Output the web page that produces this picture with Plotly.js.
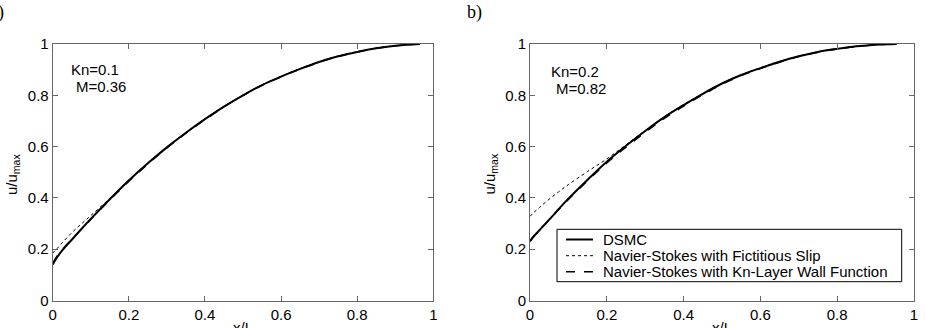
<!DOCTYPE html>
<html>
<head>
<meta charset="utf-8">
<script src="https://cdn.plot.ly/plotly-3.0.1.min.js"></script>
<style>html,body{margin:0;padding:0;background:#fff;}#chart{width:926px;height:328px;}</style>
</head>
<body>
<div id="chart"></div>
<script>
// ---- data ----
const xL = [0, 0.01, 0.025, 0.05, 0.075, 0.1, 0.15, 0.2, 0.25, 0.3, 0.35, 0.4, 0.45, 0.5, 0.55, 0.6, 0.65, 0.7, 0.75, 0.8, 0.85, 0.9, 0.93, 0.965];
const dsmcL = [0.14, 0.165, 0.195, 0.237, 0.278, 0.318, 0.395, 0.468, 0.535, 0.597, 0.654, 0.707, 0.756, 0.80, 0.84, 0.873, 0.903, 0.93, 0.952, 0.969, 0.983, 0.993, 0.997, 1.0];
const slipL = [0.185, 0.2, 0.225, 0.264, 0.298, 0.331, 0.398, 0.47, 0.537, 0.599, 0.655, 0.708, 0.757, 0.801, 0.841, 0.874, 0.904, 0.931, 0.953, 0.970, 0.984, 0.993, 0.997, 1.0];
const wallL = [0.145, 0.17, 0.198, 0.238, 0.277, 0.316, 0.392, 0.465, 0.532, 0.595, 0.652, 0.705, 0.755, 0.799, 0.839, 0.872, 0.902, 0.929, 0.951, 0.969, 0.983, 0.993, 0.997, 1.0];

const xR = [0, 0.01, 0.025, 0.05, 0.075, 0.1, 0.15, 0.2, 0.25, 0.3, 0.35, 0.4, 0.45, 0.5, 0.55, 0.6, 0.65, 0.7, 0.75, 0.8, 0.85, 0.9, 0.93, 0.955];
const dsmcR = [0.23, 0.25, 0.275, 0.315, 0.357, 0.397, 0.471, 0.541, 0.603, 0.661, 0.715, 0.762, 0.806, 0.846, 0.879, 0.906, 0.931, 0.952, 0.969, 0.981, 0.991, 0.997, 0.999, 1.0];
const slipR = [0.328, 0.343, 0.363, 0.395, 0.424, 0.452, 0.503, 0.552, 0.607, 0.663, 0.717, 0.764, 0.807, 0.847, 0.880, 0.907, 0.932, 0.953, 0.970, 0.982, 0.991, 0.997, 0.999, 1.0];
const wallR = [0.233, 0.252, 0.276, 0.314, 0.355, 0.394, 0.467, 0.536, 0.598, 0.656, 0.710, 0.758, 0.802, 0.843, 0.877, 0.904, 0.929, 0.951, 0.968, 0.98, 0.99, 0.996, 0.999, 1.0];

const seriesNames = ["DSMC", "Navier-Stokes with Fictitious Slip", "Navier-Stokes with Kn-Layer Wall Function"];
const tickVals = [0, 0.2, 0.4, 0.6, 0.8, 1];
const tickText = ["0", "0.2", "0.4", "0.6", "0.8", "1"];
const panelLabels = ["a)", "b)"];
const caseLabels = [["Kn=0.1", "M=0.36"], ["Kn=0.2", "M=0.82"]];

// ---- figure ----
const W = 926, H = 328;
const px = v => v / W;
const py = v => 1 - v / H;
const FONT = "Liberation Sans, Arial, sans-serif";
const styles = [
  {color: "#000", width: 2, dash: "solid"},
  {color: "#000", width: 1, dash: "dot"},
  {color: "#000", width: 1.5, dash: "dash"}
];

function traces(x, d, s, w, xa, ya) {
  return [d, s, w].map((yv, i) => ({
    x: x, y: yv, xaxis: xa, yaxis: ya, name: seriesNames[i], mode: "lines", showlegend: false,
    line: Object.assign({shape: "spline"}, styles[i])
  }));
}

const data = [].concat(
  traces(xL, dsmcL, slipL, wallL, "x", "y"),
  traces(xR, dsmcR, slipR, wallR, "x2", "y2")
);

function axis(domain, anchor) {
  return {
    domain: domain, anchor: anchor, range: [0, 1],
    tickvals: tickVals, ticktext: tickText,
    ticks: "inside", ticklen: 5, tickwidth: 1, tickcolor: "#666",
    showline: true, linecolor: "#666", linewidth: 1, mirror: "ticks",
    showgrid: false, zeroline: false,
    tickfont: {family: FONT, size: 15, color: "#000"}
  };
}

// legend box (drawn as shapes + text, placed in pixels)
const legBox = {x0: 557, y0: 229.3, x1: 901.7, y1: 281.7};
const legRows = [239.5, 255.7, 271.7];
const shapes = [
  {type: "rect", xref: "paper", yref: "paper", x0: px(legBox.x0), x1: px(legBox.x1), y0: py(legBox.y1), y1: py(legBox.y0),
   line: {color: "#000", width: 1}, fillcolor: "#fff", layer: "above"}
].concat(legRows.map((r, i) => ({
  type: "line", xref: "paper", yref: "paper", x0: px(566), x1: px(593), y0: py(r), y1: py(r),
  line: styles[i], layer: "above"
})));

const annotations = [
  {text: panelLabels[0], x: px(5.5), y: py(12.5), xanchor: "right", font: {family: "Liberation Serif, Times New Roman, serif", size: 18}},
  {text: panelLabels[1], x: px(465), y: py(12.5), xanchor: "left", font: {family: "Liberation Serif, Times New Roman, serif", size: 18}},
  {text: caseLabels[0][0], x: px(69), y: py(69.3), xanchor: "left", font: {size: 15}},
  {text: caseLabels[0][1], x: px(73.5), y: py(86.5), xanchor: "left", font: {size: 15}},
  {text: caseLabels[1][0], x: px(549), y: py(71.7), xanchor: "left", font: {size: 15}},
  {text: caseLabels[1][1], x: px(553.5), y: py(88.3), xanchor: "left", font: {size: 15}},
  {text: "u/u<sub>max</sub>", x: px(12), y: py(175), xanchor: "center", textangle: -90, font: {size: 15}},
  {text: "u/u<sub>max</sub>", x: px(489.5), y: py(174), xanchor: "center", textangle: -90, font: {size: 15}},
  {text: "x/L", x: px(243), y: py(327), xanchor: "center", font: {size: 15}},
  {text: "x/L", x: px(722), y: py(327), xanchor: "center", font: {size: 15}}
].concat(legRows.map((r, i) => ({
  text: seriesNames[i], x: px(600.5), y: py(r), xanchor: "left", font: {size: 15}
}))).map(a => Object.assign({xref: "paper", yref: "paper", yanchor: "middle", showarrow: false}, a));

const yDom = [py(300.5), py(44)];
const layout = {
  width: W, height: H,
  margin: {l: 0, r: 0, t: 0, b: 0},
  paper_bgcolor: "#fff", plot_bgcolor: "#fff",
  font: {family: FONT, size: 14, color: "#000"},
  xaxis: axis([px(52.7), px(433.3)], "y"),
  yaxis: axis(yDom, "x"),
  xaxis2: axis([px(530), px(914)], "y2"),
  yaxis2: axis(yDom, "x2"),
  showlegend: false,
  shapes: shapes,
  annotations: annotations
};

Plotly.newPlot("chart", data, layout, {displayModeBar: false, staticPlot: true});
</script>
</body>
</html>
